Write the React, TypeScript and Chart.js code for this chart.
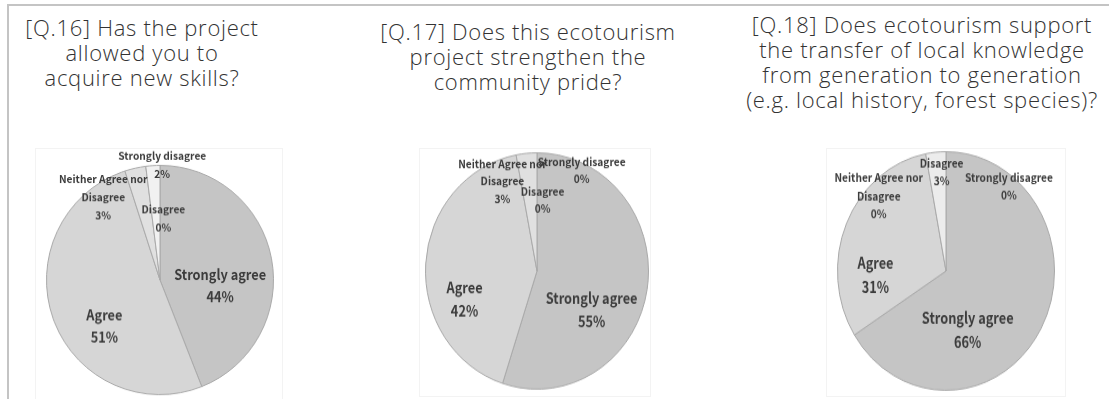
import React, { useEffect, useRef } from "react";
import { Chart, registerables } from "chart.js";

Chart.register(...registerables);

// ---- Data ----
const categories = ["Strongly agree", "Agree", "Neither Agree nor Disagree", "Disagree", "Strongly disagree"];
const labelLines = [["Strongly agree"], ["Agree"], ["Neither Agree nor", "Disagree"], ["Disagree"], ["Strongly disagree"]];
const q16Values = [44, 51, 3, 0, 2];
const q17Values = [55, 42, 3, 0, 0];
const q18Values = [66, 31, 0, 3, 0];
const q16Title = ["[Q.16] Has the project", "allowed you to", "acquire new skills?"];
const q17Title = ["[Q.17] Does this ecotourism", "project strengthen the", "community pride?"];
const q18Title = [
  "[Q.18] Does ecotourism support",
  "the transfer of local knowledge",
  "from generation to generation",
  "(e.g. local history, forest species)?",
];

// ---- Styles ----
const sliceColors = ["#c5c5c5", "#d6d6d6", "#e0e0e0", "#ececec", "#f1f1f1"];
const bigSlice = [true, true, false, false, false];

// label anchors relative to pie centre, in radius units
const q16LabelPos = [[0.53, 0.05], [-0.49, 0.4], [-0.5, -0.72], [0.03, -0.54], [0.02, -1.0]];
const q17LabelPos = [[0.49, 0.33], [-0.65, 0.24], [-0.31, -0.76], [0.05, -0.6], [0.4, -0.85]];
const q18LabelPos = [[0.2, 0.49], [-0.65, 0.03], [-0.62, -0.63], [-0.04, -0.83], [0.58, -0.71]];

type PieSpec = {
  values: number[];
  labelPos: number[][];
  box: { left: number; top: number; width: number; height: number };
  cx: number;
  cy: number;
  r: number;
  sy: number;
  smallLH: number;
};

const labelFont = '"Noto Sans CJK JP", "Noto Sans", sans-serif';

function PieChart({ spec }: { spec: PieSpec }) {
  const ref = useRef<HTMLCanvasElement | null>(null);
  useEffect(() => {
    const canvas = ref.current;
    if (!canvas) return;
    const { box, cx, cy, r } = spec;
    const localCx = cx - box.left;
    const localCy = cy - box.top;
    const labelPlugin = {
      id: "sliceLabels",
      afterDatasetsDraw(chart: any) {
        const ctx = chart.ctx;
        const meta = chart.getDatasetMeta(0);
        meta.data.forEach((arc: any, i: number) => {
          const p = arc.getProps(["x", "y", "outerRadius"], true);
          const R = p.outerRadius;
          const ax = p.x + spec.labelPos[i][0] * R;
          const ay = p.y + spec.labelPos[i][1] * R;
          const lines = [...labelLines[i], `${spec.values[i]}%`];
          const big = bigSlice[i];
          const lh = big ? 22 : spec.smallLH;
          ctx.save();
          ctx.fillStyle = "#3c3c3c";
          ctx.font = `bold ${big ? 14.5 : 10.5}px ${labelFont}`;
          ctx.textAlign = "center";
          ctx.textBaseline = "middle";
          lines.forEach((t, k) => {
            ctx.save();
            ctx.translate(ax, ay + (k - (lines.length - 1) / 2) * lh);
            ctx.scale(big ? 0.88 : 0.97, 1);
            ctx.fillText(t, 0, 0);
            ctx.restore();
          });
          ctx.restore();
        });
      },
    };
    const chart = new Chart(canvas, {
      type: "pie",
      data: {
        labels: categories,
        datasets: [
          {
            data: spec.values,
            backgroundColor: sliceColors,
            borderColor: "#a9a9a9",
            borderWidth: 1,
          },
        ],
      },
      options: {
        animation: false,
        responsive: false,
        maintainAspectRatio: false,
        devicePixelRatio: 1,
        layout: {
          padding: {
            left: localCx - r,
            right: box.width - (localCx + r),
            top: localCy - r,
            bottom: box.height - (localCy + r),
          },
        },
        plugins: { legend: { display: false }, tooltip: { enabled: false } },
      },
      plugins: [labelPlugin],
    });
    return () => chart.destroy();
  }, [spec]);
  const { box, cy, sy } = spec;
  return (
    <div
      style={{
        position: "absolute",
        left: box.left,
        top: box.top,
        width: box.width,
        height: box.height,
        transform: `scaleY(${sy})`,
        transformOrigin: `50% ${cy - box.top}px`,
      }}
    >
      <canvas ref={ref} width={box.width} height={box.height} style={{ width: box.width, height: box.height, display: "block" }} />
    </div>
  );
}

const specs: PieSpec[] = [
  { values: q16Values, labelPos: q16LabelPos, box: { left: 10, top: 110, width: 330, height: 289 }, cx: 160, cy: 280, r: 114, sy: 1.01, smallLH: 18 },
  { values: q17Values, labelPos: q17LabelPos, box: { left: 380, top: 110, width: 330, height: 289 }, cx: 537, cy: 271, r: 112, sy: 1.06, smallLH: 16.5 },
  { values: q18Values, labelPos: q18LabelPos, box: { left: 790, top: 110, width: 319, height: 289 }, cx: 946, cy: 271, r: 109, sy: 1.1, smallLH: 16.5 },
];

const titleStyle = (cx: number, top: number): React.CSSProperties => ({
  position: "absolute",
  left: cx - 250,
  width: 500,
  top,
  textAlign: "center",
  fontFamily: '"Open Sans", "Noto Sans", sans-serif',
  fontWeight: 300,
  fontSize: 22,
  letterSpacing: "0.7px",
  lineHeight: "25px",
  color: "#333",
  whiteSpace: "nowrap",
});

function Title({ lines, cx, top }: { lines: string[]; cx: number; top: number }) {
  return (
    <div style={titleStyle(cx, top)}>
      {lines.map((l, i) => (
        <div key={i}>{l}</div>
      ))}
    </div>
  );
}

const frames = [
  { left: 35, top: 148, width: 248, height: 260 },
  { left: 419, top: 148, width: 232, height: 249 },
  { left: 826, top: 148, width: 240, height: 249 },
];

export default function App() {
  return (
    <div
      style={{
        position: "absolute",
        left: 0,
        top: 0,
        width: 1109,
        height: 399,
        overflow: "hidden",
        background: "#fff",
      }}
    >
      <div style={{ position: "absolute", left: 8, top: 4, width: 1101, height: 2, background: "#c4c4c4" }} />
      <div style={{ position: "absolute", left: 7, top: 4, width: 2, height: 395, background: "#c4c4c4" }} />
      {frames.map((f, i) => (
        <div
          key={i}
          style={{ position: "absolute", left: f.left, top: f.top, width: f.width, height: f.height, border: "1px solid #f3f3f3", boxSizing: "border-box" }}
        />
      ))}
      <Title lines={q16Title} cx={142} top={15} />
      <Title lines={q17Title} cx={528} top={19} />
      <Title lines={q18Title} cx={922} top={12} />
      {specs.map((s, i) => (
        <PieChart key={i} spec={s} />
      ))}
    </div>
  );
}
